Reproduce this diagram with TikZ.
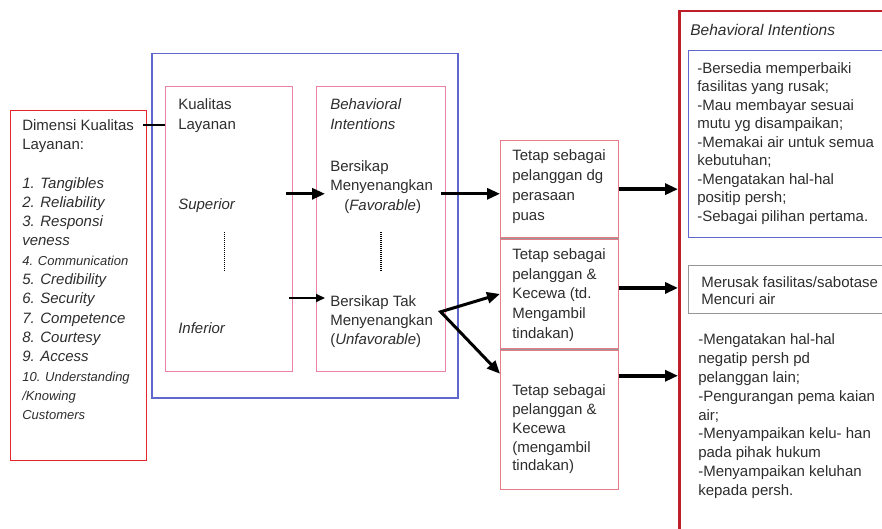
\documentclass[tikz,border=0pt]{standalone}
\usepackage{fontspec}
\setmainfont{Liberation Sans}
\usetikzlibrary{arrows.meta, positioning}

\definecolor{boxred}{RGB}{226,38,44}
\definecolor{darkred}{RGB}{190,30,40}
\definecolor{boxpink}{RGB}{234,130,165}
\definecolor{tetappink}{RGB}{228,125,135}
\definecolor{boxblue}{RGB}{95,105,205}
\definecolor{boxgrey}{RGB}{150,150,150}
\definecolor{textgrey}{RGB}{45,45,45}

\begin{document}
\begin{tikzpicture}[
            x = 1pt, y = -1pt, % one unit = one pixel, y downwards
            > = {Triangle[length = 13pt, width = 11pt]}, % arrow head style
            semithick, % line style
            every node/.style = {text = textgrey, inner sep = 0pt}
        ]

        \tikzstyle{box}=[
            draw,
            line width = 1.3pt,
            anchor = north west,
            inner sep = 0pt
        ]
        \tikzstyle{txt}=[
            anchor = north west,
            align = left,
            font = \fontsize{15}{19.5}\selectfont
        ]
        \tikzstyle{fat}=[line width = 3pt]
        \tikzstyle{slim}=[line width = 2pt, > = {Triangle[length = 9pt, width = 8pt]}]
        \tikzstyle{dots}=[line width = 1.5pt, dash pattern = on 1pt off 1pt]

        \clip (0,0) rectangle (882,529);

        % left: dimensions
        \node[box, draw = boxred, minimum width = 136pt, minimum height = 350pt] (dimensi) at (10,110) {};
        \node[txt, font = \fontsize{15}{19.3}\selectfont, below right = 9pt and 12pt of dimensi.north west] (dimtext)
            {Dimensi Kualitas\\ Layanan:\\[19.3pt]
             \textit{1. Tangibles}\\ \textit{2. Reliability}\\ \textit{3. Responsi}\\ \textit{veness}\\
             {\fontsize{13}{19.3}\selectfont\itshape 4. Communication}\\ \textit{5. Credibility}\\
             \textit{6. Security}\\ \textit{7. Competence}\\ \textit{8. Courtesy}\\ \textit{9. Access}\\
             {\fontsize{13}{19.3}\selectfont\itshape 10. Understanding}\\
             {\fontsize{13}{19.3}\selectfont\itshape /Knowing}\\
             {\fontsize{13}{19.3}\selectfont\itshape Customers}};

        % middle: model
        \node[box, draw = boxblue, line width = 1.5pt, minimum width = 306pt, minimum height = 344pt] (model) at (151,53) {};
        \node[box, draw = boxpink, minimum width = 127pt, minimum height = 285pt] (kualitas) at (165,86) {};
        \node[box, draw = boxpink, minimum width = 129pt, minimum height = 285pt] (intent) at (316,86) {};

        \node[txt, font = \fontsize{15}{20}\selectfont, below right = 12pt and 13pt of kualitas.north west] (kltext) {Kualitas\\ Layanan};
        \node[txt, below right = 112pt and 13pt of kualitas.north west] (superior) {\textit{Superior}};
        \node[txt, below right = 236pt and 13pt of kualitas.north west] (inferior) {\textit{Inferior}};

        \node[txt, font = \fontsize{15}{20}\selectfont, below right = 12pt and 14pt of intent.north west] (bitext) {\textit{Behavioral}\\ \textit{Intentions}};
        \node[txt, below right = 74pt and 14pt of intent.north west] (fav) {Bersikap\\ Menyenangkan\\ \hspace*{14pt}(\textit{Favorable})};
        \node[txt, font = \fontsize{15}{19}\selectfont, below right = 209pt and 14pt of intent.north west] (unfav) {Bersikap Tak\\ Menyenangkan\\ (\textit{Unfavorable})};

        \draw[dots] ([xshift=-4.5pt, yshift=-3pt]kualitas.center) -- ++(0,40);
        \draw[dots] ([yshift=-3pt]intent.center) -- ++(0,40);

        % customer response
        \node[box, draw = tetappink, minimum width = 118pt, minimum height = 97pt] (tetap1) at (500,140) {};
        \node[box, draw = tetappink, minimum width = 118pt, minimum height = 110pt, below = 0pt of tetap1] (tetap2) {};
        \node[box, draw = tetappink, minimum width = 118pt, minimum height = 139pt, below = 0pt of tetap2] (tetap3) {};
        \draw[boxgrey, line width = 1.3pt] (tetap2.north west) -- (tetap2.north east);
        \draw[boxgrey, line width = 1.3pt] (tetap3.north west) -- (tetap3.north east);

        \node[txt, font = \fontsize{15}{20}\selectfont, below right = 9pt and 12pt of tetap1.north west] (t1text)
            {Tetap sebagai\\ pelanggan dg\\ perasaan\\ puas};
        \node[txt, font = \fontsize{15}{19.7}\selectfont, below right = 10pt and 12pt of tetap2.north west] (t2text)
            {Tetap sebagai\\ pelanggan \&\\ Kecewa (td.\\ Mengambil\\ tindakan)};
        \node[txt, font = \fontsize{15}{18.8}\selectfont, below right = 35pt and 12pt of tetap3.north west] (t3text)
            {Tetap sebagai\\ pelanggan \&\\ Kecewa\\ (mengambil\\ tindakan)};

        % right: behavioral intentions
        \node[box, draw = darkred, line width = 2.5pt, minimum width = 240pt, minimum height = 540pt] (bi) at (678,10) {};
        \node[txt, font = \fontsize{15.5}{19}\selectfont, below right = 14pt and 12pt of bi.north west] (bititle) {\textit{Behavioral Intentions}};

        \node[box, draw = boxblue, minimum width = 220pt, minimum height = 187pt] (pos) at (688,50) {};
        \node[txt, font = \fontsize{15}{18.5}\selectfont, below right = 12pt and 9pt of pos.north west] (postext)
            {-Bersedia memperbaiki\\ fasilitas yang rusak;\\ -Mau membayar sesuai\\ mutu yg disampaikan;\\
             -Memakai air untuk semua\\ kebutuhan;\\ -Mengatakan hal-hal\\ positip persh;\\ -Sebagai pilihan pertama.};

        \node[box, draw = boxgrey, minimum width = 220pt, minimum height = 48pt] (neg) at (688,265) {};
        \node[txt, font = \fontsize{15}{17}\selectfont, below right = 11pt and 13pt of neg.north west] (negtext)
            {Merusak fasilitas/sabotase\\ Mencuri air};

        \node[txt, font = \fontsize{15}{18.9}\selectfont, below right = 19pt and 10pt of neg.south west] (keluhan)
            {-Mengatakan hal-hal\\ negatip persh pd\\ pelanggan lain;\\ -Pengurangan pema kaian\\ air;\\
             -Menyampaikan kelu- han\\ pada pihak hukum\\ -Menyampaikan keluhan\\ kepada persh.};

        % connectors
        \draw[line width = 1.5pt] ([xshift=-4pt, yshift=-15pt]dimensi.north east) -- ([yshift=-15pt]dimensi.north east -| kualitas.west);

        \path[->] ([xshift=-7pt, yshift=-7pt]fav.west -| kualitas.east) edge[fat, shorten > = 5pt] ([yshift=-7pt]fav.west);
        \path[slim, ->] ([xshift=-4pt, yshift=-3pt]unfav.north west -| kualitas.east) edge[slim, shorten > = 5pt] ([yshift=-3pt]unfav.north west);

        \path[->] ([xshift=8pt, yshift=-7pt]fav.east) edge[fat] ([yshift=-7pt]fav.east -| tetap1.west);

        \coordinate (split) at ([xshift=7.5pt, yshift=9.5pt]unfav.east);
        \draw[<->, fat, line join = miter] (tetap2.west) -- (split) -- ([yshift=46pt]tetap3.west);

        \path[->] (tetap1.east) edge[line width = 3.5pt] (tetap1.east -| bi.west);
        \path[->] ([yshift=6pt]tetap2.east) edge[line width = 3.5pt] ([yshift=6pt]tetap2.east -| bi.west);
        \path[->] ([yshift=44pt]tetap3.east) edge[line width = 3.5pt] ([yshift=44pt]tetap3.east -| bi.west);

    \end{tikzpicture}
\end{document}
